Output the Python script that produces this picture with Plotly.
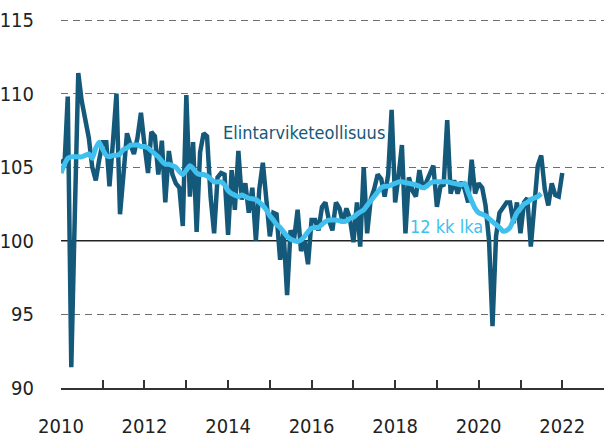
import pandas as pd
import plotly.graph_objects as go

# Monthly index values, Jan 2010 ->
elintarvike = [
    105.5, 105.2, 109.8, 91.4, 101.5, 111.4, 109.5, 108.3, 107.0, 105.0, 104.1, 105.5,
    106.7, 106.7, 103.7, 106.8, 110.0, 101.8, 105.0, 107.3, 106.5, 105.9, 107.0, 108.7,
    106.5, 104.6, 107.4, 107.1, 104.5, 106.8, 102.6, 106.1, 104.5, 103.9, 103.6, 101.0,
    109.9, 103.0, 106.7, 100.6, 106.0, 107.3, 107.1, 103.0, 100.5, 104.3, 104.6, 104.5,
    100.4, 104.8, 102.1, 106.1, 102.8, 103.9, 101.9, 103.6, 100.0, 103.5, 105.3, 103.0,
    100.3, 101.9, 101.8, 98.7, 100.6, 96.3, 100.7, 100.1, 102.1, 99.3, 100.0, 98.4,
    101.4, 101.4, 100.7, 102.3, 102.6, 101.4, 100.7, 102.6, 102.2, 101.2, 102.2, 101.5,
    99.9, 102.6, 99.6, 105.0, 100.5, 102.8, 103.5, 104.5, 104.2, 103.0, 104.5, 108.9,
    102.6, 104.5, 106.5, 100.5, 104.3, 103.4, 103.0, 104.8, 103.5, 104.0, 104.5, 105.1,
    102.3, 103.7, 103.8, 108.2, 103.2, 104.1, 103.2, 104.0, 103.5, 102.6, 105.5, 103.2,
    103.9, 103.6, 102.4, 100.0, 94.2, 100.3, 101.9, 102.3, 102.6, 102.6, 101.2, 102.6,
    100.5, 102.6, 102.9, 99.6, 102.8, 105.1, 105.8, 103.5, 102.4, 103.9, 103.1, 103.0,
    104.6,
]

lka12 = [
    104.6, 105.2, 105.6, 105.7, 105.7, 105.7, 105.7, 105.8, 105.9, 105.6, 106.3, 106.7,
    106.2, 105.8, 105.7, 105.8, 105.8, 105.9, 106.2, 106.3, 106.5, 106.5, 106.5, 106.4,
    106.4, 106.3, 106.1, 105.9, 105.7, 105.4, 105.2, 105.2, 105.1, 105.0, 104.7, 104.5,
    104.8, 105.1, 104.9, 104.6, 104.5, 104.5, 104.4, 104.2, 104.0, 104.0, 104.0, 103.8,
    103.4, 103.2, 103.1, 103.0, 103.1, 103.0, 102.9, 102.85, 102.8, 102.6, 102.4, 102.1,
    101.7, 101.4, 101.1, 100.9, 100.6, 100.3, 100.1, 100.0, 99.95, 100.05, 100.3, 100.6,
    100.85, 100.9, 100.9, 101.1, 101.3, 101.4, 101.4, 101.4, 101.35, 101.3, 101.35, 101.5,
    101.6, 101.8, 101.95, 102.1, 102.4, 102.7, 103.0, 103.3, 103.6, 103.7, 103.7, 103.8,
    103.9, 104.0, 104.0, 103.95, 103.9, 103.85, 103.8, 103.7, 103.6, 103.7, 103.9, 104.0,
    104.0, 104.0, 104.0, 104.0, 103.95, 103.9, 103.85, 103.8, 103.9, 103.3, 102.7, 102.2,
    101.9, 101.8, 101.7, 101.5, 101.3, 101.1, 100.9, 100.65, 100.7, 100.9, 101.4, 101.9,
    102.2, 102.5, 102.6, 102.8, 102.9, 103.0, 103.2,
]

months = pd.date_range("2010-01-01", periods=len(elintarvike), freq="MS")
months_lka = months[:len(lka12)]

years = list(range(2010, 2024))
year_ticks = [f"{y}-01-01" for y in years]
year_labels = [str(y) if y % 2 == 0 else "" for y in years]
y_ticks = [90, 95, 100, 105, 110, 115]
y_dashed = [95, 105, 110, 115]

DARK = "#15597a"
LIGHT = "#3fc0ee"
FONT = "DejaVu Sans Condensed, DejaVu Sans, sans-serif"

fig = go.Figure()
fig.add_trace(go.Scatter(x=months, y=elintarvike, mode="lines",
                         line=dict(color=DARK, width=4.5), name="Elintarviketeollisuus"))
fig.add_trace(go.Scatter(x=months_lka, y=lka12, mode="lines",
                         line=dict(color=LIGHT, width=5, shape="spline", smoothing=0.6),
                         name="12 kk lka"))

fig.add_hline(y=100, line=dict(color="#222222", width=1.6), layer="below")

fig.add_annotation(x="2015-10-27", y=107.35, text="Elintarviketeollisuus", showarrow=False,
                   font=dict(family=FONT, size=18, color=DARK))
fig.add_annotation(x="2019-03-28", y=100.95, text="12 kk lka", showarrow=False,
                   font=dict(family=FONT, size=18, color=LIGHT))

fig.update_layout(
    width=604, height=440,
    margin=dict(l=61, r=0, t=18, b=52, autoexpand=False),
    paper_bgcolor="white", plot_bgcolor="white",
    showlegend=False,
    font=dict(family=FONT, color="#222222"),
)
fig.update_xaxes(
    type="date", range=["2010-01-01", "2023-01-01"],
    tickvals=year_ticks, ticktext=year_labels,
    ticks="inside", ticklen=8, tickwidth=1.5, tickcolor="#333333",
    showline=True, linecolor="#333333", linewidth=1.5,
    showgrid=False, zeroline=False, automargin=False,
    tickfont=dict(family=FONT, size=20, color="#222222"),
    ticklabelstandoff=19,
)
fig.update_yaxes(
    range=[89.99, 115.136], tickvals=y_ticks,
    showgrid=False, showline=False, zeroline=False, ticks="", automargin=False,
    minor=dict(tickvals=y_dashed, showgrid=True, gridcolor="#6f6f6f",
               gridwidth=1.3, griddash="7px,5px", ticks=""),
    tickfont=dict(family=FONT, size=20, color="#222222"),
    ticklabelstandoff=26,
)

fig.write_html(
    "out.html",
    config={"displayModeBar": False},
    post_script="document.body.style.margin='0';document.body.style.overflow='hidden';",
)
